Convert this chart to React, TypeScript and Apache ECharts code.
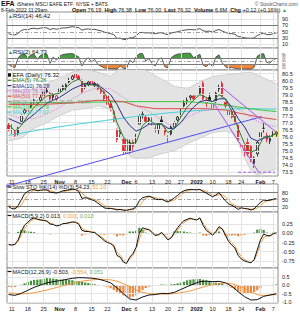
import React, { useEffect, useRef } from 'react';
import * as echarts from 'echarts';

const dates = ['10/8','10/11','10/12','10/13','10/14','10/15','10/18','10/19','10/20','10/21','10/22','10/25','10/26','10/27','10/28','10/29',
'11/1','11/2','11/3','11/4','11/5','11/8','11/9','11/10','11/11','11/12','11/15','11/16','11/17','11/18','11/19','11/22','11/23','11/24','11/26','11/29','11/30',
'12/1','12/2','12/3','12/6','12/7','12/8','12/9','12/10','12/13','12/14','12/15','12/16','12/17','12/20','12/21','12/22','12/23','12/27','12/28','12/29','12/30','12/31',
'1/3','1/4','1/5','1/6','1/7','1/10','1/11','1/12','1/13','1/14','1/18','1/19','1/20','1/21','1/24','1/25','1/26','1/27','1/28','1/31',
'2/1','2/2','2/3','2/4','2/7','2/8'];

const opens = [76.8,76.6,76.3,76.2,77.1,77.7,77.9,78.1,78.5,78.5,78.6,78.9,79.3,79.1,78.8,78.7,79.2,79.4,79.5,80.0,80.1,80.5,80.3,80.0,79.5,79.7,80.0,79.7,79.7,79.4,79.2,78.9,78.3,77.1,76.5,76.3,75.8,75.8,74.9,75.6,75.6,76.9,77.5,77.4,77.2,77.3,76.6,76.5,77.2,76.6,76.0,76.2,76.7,77.2,77.5,78.2,78.5,78.8,78.9,78.9,79.1,79.8,78.4,78.8,78.0,78.5,79.4,79.8,78.5,77.8,77.8,77.6,76.8,75.3,75.0,75.6,75.3,74.1,74.8,75.9,76.6,76.1,75.7,76.2,76.19];
const highs = [77.0,76.9,76.5,76.7,77.6,78.0,78.0,78.5,78.7,78.6,79.0,79.3,79.5,79.2,79.1,79.0,79.5,79.7,79.8,80.2,80.4,80.6,80.4,80.1,79.8,80.0,80.1,79.9,79.8,79.5,79.3,79.0,78.4,77.9,76.6,76.6,76.0,76.1,75.8,75.8,76.2,77.6,77.8,77.5,77.4,77.4,76.8,77.0,77.5,76.7,76.1,76.8,77.1,77.5,78.0,78.6,78.8,79.0,79.0,79.0,79.6,80.0,78.8,79.1,78.4,79.2,79.7,80.0,78.7,77.9,78.0,77.8,76.9,75.6,75.4,75.9,75.4,74.6,75.7,76.4,77.0,76.3,76.1,76.4,76.38];
const lows = [76.4,76.2,75.9,76.1,77.0,77.6,77.5,78.0,78.3,78.2,78.5,78.8,79.1,78.6,78.6,78.5,79.0,79.3,79.3,79.8,80.0,80.1,80.0,79.1,79.4,79.6,79.6,79.5,79.3,79.0,78.6,78.2,77.8,77.0,75.6,75.9,74.7,74.6,74.8,75.0,75.5,76.9,77.3,77.0,76.9,76.8,76.3,76.2,76.9,76.1,75.6,76.1,76.6,77.1,77.4,78.1,78.3,78.6,78.6,78.5,79.0,78.6,78.1,78.5,77.7,78.4,79.2,78.8,78.0,77.3,77.3,76.9,75.7,73.5,74.6,74.6,74.2,73.8,74.6,75.7,76.3,75.6,75.4,76.0,76.00];
const closes = [76.5,76.3,76.1,76.6,77.5,77.9,77.8,78.4,78.6,78.4,78.8,79.2,79.2,78.7,79.0,78.9,79.4,79.6,79.7,79.9,80.3,80.2,80.1,79.2,79.7,79.9,79.7,79.8,79.4,79.2,78.7,78.3,78.0,77.8,75.8,76.2,75.0,74.8,75.6,75.3,76.0,77.5,77.6,77.1,77.3,76.9,76.6,76.9,77.0,76.3,75.8,76.7,77.0,77.4,77.9,78.4,78.6,78.9,78.7,78.9,79.5,78.7,78.6,78.6,78.3,79.1,79.5,78.9,78.2,77.5,77.4,77.0,75.8,75.4,75.1,74.8,74.4,74.5,75.6,76.3,76.6,75.8,75.9,76.2,76.32];

const tickDates = ['10/11','10/18','10/25','11/1','11/8','11/15','11/22','12/1','12/6','12/13','12/20','12/27','1/3','1/10','1/18','1/24','2/1','2/7'];
const tickNames = ['11','18','25','Nov','8','15','22','Dec','6','13','20','27','2022','10','18','24','Feb','7'];
const boldTicks = ['Nov','Dec','2022','Feb'];

const ema5 = [[0,76.9],[2,76.4],[4,76.8],[6,77.5],[8,78.1],[10,78.5],[12,78.9],[14,79.0],[16,79.1],[18,79.5],[20,79.9],[22,80.1],[24,79.7],[26,79.7],[28,79.6],[30,79.1],[32,78.5],[34,77.0],[36,76.0],[38,75.5],[40,75.6],[42,76.8],[44,77.2],[46,76.9],[48,76.9],[50,76.3],[52,76.6],[54,77.4],[56,78.1],[58,78.6],[60,79.0],[62,78.8],[64,78.5],[66,79.0],[68,78.7],[70,77.8],[72,76.6],[74,75.5],[76,74.9],[78,75.1],[80,76.0],[82,76.0],[84,76.26]];
const ema10 = [[0,77.3],[4,76.9],[8,77.6],[12,78.4],[16,78.8],[20,79.4],[24,79.8],[28,79.7],[32,79.0],[34,78.3],[36,77.4],[38,76.8],[40,76.4],[42,76.6],[44,76.9],[46,76.9],[48,76.9],[50,76.6],[52,76.6],[54,77.0],[56,77.6],[58,78.1],[60,78.5],[62,78.6],[64,78.5],[66,78.7],[68,78.7],[70,78.1],[72,77.3],[74,76.7],[76,75.9],[78,75.7],[80,75.9],[82,76.0],[84,76.28]];
const ma20 = [[0,77.6],[4,77.3],[8,77.3],[12,77.6],[16,78.1],[20,78.7],[24,79.2],[28,79.5],[32,79.4],[34,79.1],[36,78.8],[38,78.5],[40,78.2],[42,78.0],[44,77.8],[46,77.5],[48,77.2],[50,76.9],[52,76.8],[54,77.0],[56,77.4],[58,77.6],[60,77.8],[62,77.9],[64,78.0],[66,78.2],[68,78.3],[70,78.2],[72,78.0],[74,77.7],[76,77.4],[78,77.1],[80,76.9],[82,76.8],[84,76.73]];
const ma50 = [[0,78.3],[10,78.3],[20,78.4],[28,78.6],[36,78.5],[40,78.2],[46,78.0],[56,78.0],[62,78.0],[68,77.9],[74,77.6],[80,77.35],[84,77.23]];
const ma100 = [[0,78.4],[20,78.45],[40,78.5],[56,78.5],[62,78.4],[68,78.25],[74,78.05],[80,77.88],[84,77.79]];
const ma200 = [[0,76.1],[10,76.5],[20,76.85],[30,77.15],[40,77.45],[50,77.7],[58,77.85],[66,77.95],[74,78.0],[84,77.97]];
const bbUpper = [[0,79.4],[4,79.3],[8,79.4],[12,79.8],[16,80.2],[20,80.6],[24,80.8],[28,80.6],[32,80.3],[34,80.7],[36,81.2],[38,81.3],[40,81.1],[44,80.6],[48,80.1],[52,79.6],[56,79.4],[60,79.9],[64,80.3],[68,80.4],[72,80.5],[76,80.6],[80,80.2],[84,79.77]];
const bbLower = [[0,75.7],[4,75.9],[8,76.6],[12,77.0],[16,77.5],[20,77.9],[24,78.0],[28,78.2],[32,78.0],[34,76.8],[36,75.4],[38,74.6],[40,74.5],[44,74.5],[48,74.8],[52,75.0],[56,75.5],[60,75.9],[64,76.3],[68,76.4],[70,76.3],[72,75.6],[74,74.5],[76,73.6],[78,73.3],[80,73.4],[84,73.70]];

const blueTrend = [[-2.7,72.36],[79.4,77.43]];
const purpleUpper = [[67,79.5],[84.3,76.25]];
const purpleLower = [[64.3,78.4],[78.4,73.5]];
const purpleFloor = [[72,73.48],[83.6,73.48]];

const rsi14 = [44,41,40,45,54,57,56,60,61,59,61,63,62,57,60,58,60,62,62,64,66,64,63,55,58,59,57,58,55,53,49,46,44,41,29,30,26,26,31,31,37,47,48,46,47,45,44,46,47,43,41,46,48,50,53,55,56,57,56,57,60,53,51,52,49,54,57,52,48,44,44,42,35,34,31,30,29.5,30.5,38,43,45,41,41,44,46.42];
const rsi2 = [30,15,10,70,92,95,70,88,92,60,85,92,93,35,75,55,80,90,93,95,97,85,75,20,55,70,45,60,30,18,8,5,4,3,1,20,5,3,55,40,75,95,96,50,65,35,20,60,70,15,8,70,85,92,95,97,98,98,70,80,92,25,15,35,15,75,88,40,15,6,10,5,2,2,2,1,1,10,80,92,95,40,38,60,64.73];
const stoK = [20,12,10,25,50,75,85,92,93,88,90,92,92,82,80,78,82,88,90,92,95,93,85,55,58,56,50,45,35,25,15,12,12,10,6,8,5,4,8,10,20,45,58,62,65,60,52,50,52,45,40,48,58,68,80,88,92,94,93,92,94,85,78,70,62,70,80,62,45,32,26,18,8,15,12,10,6,10,25,38,48,46,48,52,54.23];
const stoD = [28,20,14,16,28,50,70,84,90,91,90,90,91,89,85,80,80,83,87,90,92,93,91,78,66,56,55,50,45,35,25,17,13,11,9,8,6,6,6,7,13,25,41,55,62,62,59,54,51,49,46,44,49,58,69,79,87,91,93,93,93,90,86,78,70,67,71,71,62,46,34,25,17,14,12,12,9,9,14,24,37,44,47,49,51.10];
const macdFast = [-0.30,-0.32,-0.30,-0.18,0.05,0.22,0.30,0.38,0.42,0.38,0.36,0.35,0.33,0.25,0.24,0.20,0.22,0.26,0.27,0.29,0.31,0.30,0.25,0.08,0.05,0.05,0.03,0.02,-0.05,-0.12,-0.20,-0.25,-0.28,-0.35,-0.60,-0.65,-0.78,-0.82,-0.65,-0.55,-0.38,0.00,0.15,0.12,0.10,0.02,-0.06,-0.04,0.02,-0.08,-0.18,-0.12,0.02,0.15,0.26,0.34,0.38,0.41,0.38,0.36,0.42,0.22,0.08,0.02,-0.05,0.05,0.18,0.12,-0.05,-0.22,-0.32,-0.40,-0.60,-0.70,-0.75,-0.78,-0.80,-0.72,-0.45,-0.18,-0.02,-0.06,-0.07,-0.01,0.013];
const macdFastSig = [-0.32,-0.32,-0.31,-0.22,-0.04,0.14,0.25,0.34,0.39,0.39,0.37,0.36,0.34,0.28,0.25,0.22,0.22,0.25,0.26,0.28,0.30,0.30,0.27,0.14,0.08,0.06,0.04,0.03,-0.03,-0.09,-0.16,-0.22,-0.26,-0.32,-0.51,-0.60,-0.72,-0.79,-0.70,-0.60,-0.45,-0.15,0.05,0.10,0.10,0.05,-0.03,-0.04,0.00,-0.05,-0.14,-0.13,-0.03,0.09,0.20,0.29,0.35,0.39,0.38,0.37,0.40,0.28,0.15,0.06,-0.01,0.03,0.13,0.12,0.01,-0.15,-0.26,-0.35,-0.52,-0.64,-0.71,-0.76,-0.79,-0.74,-0.55,-0.30,-0.11,-0.08,-0.07,-0.03,0.000];
const macdFastHist = [0.02,0.00,0.01,0.04,0.09,0.08,0.05,0.04,0.03,-0.01,-0.01,-0.01,-0.01,-0.03,-0.01,-0.02,0.00,0.01,0.01,0.01,0.01,0.00,-0.02,-0.06,-0.03,-0.01,-0.01,-0.01,-0.02,-0.03,-0.04,-0.03,-0.02,-0.03,-0.09,-0.05,-0.06,-0.03,0.05,0.05,0.07,0.15,0.10,0.02,0.00,-0.03,-0.03,0.00,0.02,-0.03,-0.04,0.01,0.05,0.06,0.06,0.05,0.03,0.02,0.00,-0.01,0.02,-0.06,-0.07,-0.04,-0.04,0.02,0.05,0.00,-0.06,-0.07,-0.06,-0.05,-0.08,-0.06,-0.04,-0.02,-0.01,0.02,0.10,0.12,0.09,0.02,0.00,0.02,0.013];
const macdSlow = [[0,-0.55],[2,-0.60],[4,-0.48],[6,-0.30],[8,-0.12],[10,0.02],[12,0.15],[14,0.22],[16,0.28],[18,0.35],[20,0.42],[22,0.46],[24,0.45],[26,0.43],[28,0.38],[30,0.28],[32,0.15],[34,-0.15],[36,-0.50],[38,-0.82],[40,-0.88],[42,-0.70],[44,-0.58],[46,-0.55],[48,-0.48],[50,-0.50],[52,-0.42],[54,-0.25],[56,-0.08],[58,0.08],[60,0.22],[62,0.25],[64,0.22],[66,0.24],[68,0.15],[70,-0.05],[72,-0.38],[74,-0.68],[76,-0.88],[78,-0.86],[80,-0.66],[82,-0.58],[84,-0.503]];
const macdSlowSig = [[0,-0.45],[4,-0.52],[8,-0.45],[12,-0.28],[16,-0.08],[20,0.12],[24,0.28],[28,0.36],[32,0.33],[34,0.25],[36,0.10],[38,-0.08],[40,-0.28],[42,-0.42],[44,-0.50],[48,-0.53],[52,-0.50],[56,-0.38],[58,-0.28],[60,-0.16],[62,-0.05],[64,0.04],[66,0.10],[68,0.14],[70,0.10],[72,-0.02],[74,-0.20],[76,-0.40],[78,-0.56],[80,-0.62],[82,-0.58],[84,-0.554]];
const macdSlowHist = [-0.10,-0.12,-0.10,-0.03,0.04,0.12,0.20,0.27,0.33,0.34,0.36,0.38,0.43,0.42,0.40,0.38,0.36,0.34,0.33,0.32,0.30,0.27,0.26,0.22,0.17,0.14,0.11,0.07,0.02,-0.02,-0.06,-0.12,-0.18,-0.28,-0.40,-0.50,-0.60,-0.68,-0.74,-0.68,-0.60,-0.44,-0.28,-0.16,-0.08,-0.05,-0.02,0.02,0.05,0.04,0.03,0.06,0.08,0.12,0.16,0.22,0.30,0.34,0.36,0.37,0.38,0.34,0.30,0.24,0.18,0.16,0.14,0.08,0.01,-0.08,-0.15,-0.25,-0.36,-0.44,-0.48,-0.50,-0.48,-0.40,-0.30,-0.18,-0.04,0.00,0.00,0.03,0.051];

const rsiTicks = [10, 30, 50, 70, 90];
const priceTicks = [73.5, 74, 74.5, 75, 75.5, 76, 76.5, 77, 77.5, 78, 78.5, 79, 79.5, 80, 80.5];
const stoTicks = [20, 50, 80];
const macdFastTicks = [-0.75, -0.5, -0.25, 0, 0.25];
const macdSlowTicks = [-1, -0.5, 0, 0.5];

const FONT = 'Liberation Sans, Arial, sans-serif';
const RED = '#e8202a';
const GREEN_F = '#4a8f3f';
const ORANGE_F = '#f0863a';

function buildOption() {
  const G = [
    { top: 12, height: 36 }, { top: 48, height: 22 }, { top: 70, height: 106 },
    { top: 184, height: 28 }, { top: 212, height: 56 }, { top: 268, height: 35 },
  ];
  const yRange = [[-1, 112], [-5, 130], [73.21, 80.75], [-3, 117], [-0.943, 0.579], [-1.06, 1.04]];
  const yLabels = [rsiTicks, rsiTicks, priceTicks, stoTicks, macdFastTicks, macdSlowTicks];
  const yFont = [5.5, 3, 5.5, 5.5, 5.5, 5.5];
  const yFmt = [
    (v: number) => String(v), (v: number) => String(v), (v: number) => v.toFixed(1),
    (v: number) => String(v), (v: number) => v.toFixed(2), (v: number) => v.toFixed(1),
  ];
  const grid = G.map(g => ({ left: 7, right: 22, top: g.top, height: g.height, show: true, backgroundColor: '#ffffff', borderColor: '#8c8c8c', borderWidth: 1 }));
  const xLabel = {
    show: true, fontSize: 5.5, color: '#222', margin: 3, fontFamily: FONT,
    interval: (idx: number) => tickDates.indexOf(dates[idx]) >= 0,
    formatter: (v: string) => { const n = tickNames[tickDates.indexOf(v)]; return boldTicks.indexOf(n) >= 0 ? '{b|' + n + '}' : n; },
    rich: { b: { fontWeight: 'bold', fontSize: 5.5, fontFamily: FONT, color: '#111' } },
  };
  const xCat = G.map((_, i) => ({
    type: 'category', gridIndex: i, data: dates, boundaryGap: true,
    axisLine: { show: false }, axisTick: { show: false }, splitLine: { show: false },
    axisLabel: (i === 2 || i === 5) ? xLabel : { show: false },
  }));
  const xVal = G.map((_, i) => ({ type: 'value', gridIndex: i, min: -0.5, max: 84.5, show: false, splitLine: { show: false } }));
  const yAxis = G.map((_, i) => ({
    type: 'value', gridIndex: i, position: 'right', min: yRange[i][0], max: yRange[i][1],
    axisLine: { show: false }, axisTick: { show: false }, splitLine: { show: false },
    axisLabel: { customValues: yLabels[i], formatter: yFmt[i], fontSize: yFont[i], lineHeight: yFont[i], color: '#222', margin: 4, fontFamily: FONT },
  }));

  const light = { color: '#e4e4e4', width: 1, type: 'solid' };
  const dark = { color: '#7a7a7a', width: 1, type: 'solid' };
  const dash = { color: '#8a8a8a', width: 0.8, type: [4, 2, 1, 2] };

  const helper = (g: number, data: any[], levels: any[]) => ({
    type: 'line', xAxisIndex: g, yAxisIndex: g, data, z: 1, silent: true, showSymbol: false,
    lineStyle: { opacity: 0 },
    markLine: {
      silent: true, symbol: ['none', 'none'], label: { show: false }, animation: false,
      data: [
        ...tickDates.map(d => ({ xAxis: d, lineStyle: light })),
        ...levels.map(([v, s]) => ({ yAxis: v, lineStyle: s })),
      ],
    },
  });

  const vline = (g: number, data: any, color: string, width = 0.9, extra: any = {}) => ({
    type: 'line', xAxisIndex: 6 + g, yAxisIndex: g, data, showSymbol: false, silent: true, z: 5,
    lineStyle: { color, width, ...(extra.lineStyle || {}) }, ...(extra.opts || {}),
  });

  const candleData = closes.map((c, i) => {
    const prev = i > 0 ? closes[i - 1] : opens[i];
    const col = c < prev ? RED : '#111';
    const hollow = c > opens[i];
    return { value: [opens[i], c, lows[i], highs[i]], itemStyle: { color: hollow ? '#ffffff' : col, color0: col, borderColor: col, borderColor0: col, borderWidth: 0.8 } };
  });

  const series: any[] = [];
  series.push(helper(0, rsi14, [[10, light], [90, light], [70, dark], [30, dark], [50, dash]]));
  const rsi14Fill = series.length;
  series.push({ type: 'line', xAxisIndex: 0, yAxisIndex: 0, data: rsi14, showSymbol: false, silent: true, z: 2, lineStyle: { width: 0 }, areaStyle: { origin: 50, opacity: 1 } });
  series.push({ type: 'line', xAxisIndex: 0, yAxisIndex: 0, data: rsi14, showSymbol: false, silent: true, z: 4, lineStyle: { color: '#3c3c3c', width: 0.9 } });
  series.push(helper(1, rsi2, [[70, dark], [30, dark], [50, dash]]));
  const rsi2Fill = series.length;
  series.push({ type: 'line', xAxisIndex: 1, yAxisIndex: 1, data: rsi2, showSymbol: false, silent: true, z: 2, lineStyle: { width: 0 }, areaStyle: { origin: 50, opacity: 1 } });
  series.push({ type: 'line', xAxisIndex: 1, yAxisIndex: 1, data: rsi2, showSymbol: false, silent: true, z: 4, lineStyle: { color: '#3c3c3c', width: 0.8 } });
  series.push({
    type: 'custom', xAxisIndex: 8, yAxisIndex: 2, z: 1, silent: true, clip: true,
    data: [[0, 76]],
    renderItem: (_p: any, api: any) => {
      const up = bbUpper.map(p => api.coord(p));
      const lo = bbLower.slice().reverse().map(p => api.coord(p));
      return { type: 'polygon', shape: { points: up.concat(lo) }, style: { fill: '#e3e3e3', stroke: 'none' } };
    },
  });
  series.push(helper(2, closes, priceTicks.map(v => [v, light])));
  series.push(vline(2, bbUpper, '#c4c4c4', 0.7));
  series.push(vline(2, bbLower, '#c4c4c4', 0.7));
  series.push({ type: 'scatter', xAxisIndex: 2, yAxisIndex: 2, data: [[84, 76.2]], symbol: 'rect', symbolSize: [5, 7], itemStyle: { color: '#f3ef4a' }, z: 3, silent: true });
  series.push({ type: 'candlestick', xAxisIndex: 2, yAxisIndex: 2, data: candleData, barWidth: '62%', z: 4, silent: true });
  series.push(vline(2, ma200, '#45d3da', 1));
  series.push(vline(2, ma100, '#38c838', 1));
  series.push(vline(2, ma50, '#e04a4a', 1));
  series.push(vline(2, ma20, '#d060d0', 0.9, { lineStyle: { type: [1, 1.5] } }));
  series.push(vline(2, ema10, '#2d2d90', 1));
  series.push(vline(2, ema5, '#2c7d2c', 1));
  series.push(vline(2, blueTrend, '#5050ee', 1, { opts: { clip: false, z: 6 } }));
  series.push(vline(2, purpleUpper, '#a455ee', 1, { opts: { clip: false, z: 6 } }));
  series.push(vline(2, purpleLower, '#a455ee', 1, { opts: { clip: false, z: 6 } }));
  series.push(vline(2, purpleFloor, '#a455ee', 1, { lineStyle: { type: [3, 2] }, opts: { z: 6 } }));
  series.push(helper(3, stoK, [[80, dark], [20, dark], [50, dash]]));
  series.push({ type: 'line', xAxisIndex: 3, yAxisIndex: 3, data: stoD, showSymbol: false, silent: true, z: 4, lineStyle: { color: '#f29a3e', width: 1 } });
  series.push({ type: 'line', xAxisIndex: 3, yAxisIndex: 3, data: stoK, showSymbol: false, silent: true, z: 5, lineStyle: { color: '#111', width: 1 } });
  series.push(helper(4, macdFast, macdFastTicks.map(v => [v, light])));
  series.push({ type: 'bar', xAxisIndex: 4, yAxisIndex: 4, barWidth: '70%', silent: true, z: 3,
    data: macdFastHist.map(v => ({ value: v, itemStyle: { color: v >= 0 ? GREEN_F : ORANGE_F } })) });
  series.push({ type: 'line', xAxisIndex: 4, yAxisIndex: 4, data: macdFastSig, showSymbol: false, silent: true, z: 4, lineStyle: { color: '#f29a3e', width: 1 } });
  series.push({ type: 'line', xAxisIndex: 4, yAxisIndex: 4, data: macdFast, showSymbol: false, silent: true, z: 5, lineStyle: { color: '#111', width: 1 } });
  series.push(helper(5, macdSlowHist, macdSlowTicks.map(v => [v, light])));
  series.push({ type: 'bar', xAxisIndex: 5, yAxisIndex: 5, barWidth: '70%', silent: true, z: 3,
    data: macdSlowHist.map(v => ({ value: v, itemStyle: { color: v >= 0 ? GREEN_F : ORANGE_F } })) });
  series.push(vline(5, macdSlowSig, '#f29a3e', 1));
  series.push(vline(5, macdSlow, '#111', 1));

  const pieces = [
    { gt: 70, color: '#4a9a45' },
    { gte: 30, lte: 70, color: 'rgba(0,0,0,0)' },
    { lt: 30, color: '#f0863a' },
  ];
  const visualMap = [rsi14Fill, rsi2Fill].map(si => ({ type: 'piecewise', show: false, seriesIndex: si, dimension: 1, pieces }));

  const T = (x: number, y: number, text: string, style: any = {}) => ({
    type: 'text', x, y, z: 100, silent: true,
    style: { text, fontSize: 5.5, fontFamily: FONT, fill: '#111', verticalAlign: 'middle', ...style },
  });
  const legRow = (y: number, color: string, text: string, dotted = false) => ([
    { type: 'line', z: 100, silent: true, shape: { x1: 7.5, y1: y, x2: 11.5, y2: y }, style: { stroke: color, lineWidth: 1.2, lineDash: dotted ? [1, 1] : null } },
    ...(text ? [T(12.5, y, text, { fill: color })] : []),
  ]);

  const graphic: any[] = [
    T(1, 3.8, 'EFA', { fontSize: 7, fontWeight: 'bold' }),
    T(17, 4, 'iShares MSCI EAFE ETF  NYSE + BATS', { fontSize: 5 }),
    T(298, 4, '© StockCharts.com', { fontSize: 5, fill: '#555', align: 'right' }),
    T(1, 10.2, '8-Feb-2022 11:29am', { fontSize: 5 }),
    T(72, 10.2, '{b|Open} 76.19  {b|High} 76.38  {b|Low} 76.00  {b|Last} 76.32  {b|Volume} 6.6M  {b|Chg} +0.12 (+0.16%) {g|▲}', {
      fontSize: 5.5, rich: { b: { fontWeight: 'bold', fontSize: 5.5, fontFamily: FONT }, g: { fill: '#3a9a3a', fontSize: 5 } },
    }),
    T(8, 15.5, '{g|▲}RSI(14) 46.42', { fontSize: 6, rich: { g: { fill: '#3a8a3a', fontSize: 5 } } }),
    T(8, 52, '{g|▲}RSI(2) 64.73', { fontSize: 6, rich: { g: { fill: '#3a8a3a', fontSize: 5 } } }),
    { type: 'rect', z: 100, silent: true, shape: { x: 8, y: 73.2, width: 3, height: 3.5 }, style: { fill: '#111' } },
    T(12.5, 75, 'EFA (Daily) 76.32', { fontSize: 6 }),
    ...legRow(80.3, '#2c7d2c', 'EMA(5) 76.26'),
    ...legRow(85.6, '#2d2d90', 'EMA(10) 76.28'),
    ...legRow(90.9, '#d060d0', 'MA(20) 76.73', true),
    ...legRow(96.2, '#e04a4a', 'MA(50) 77.23'),
    ...legRow(101.5, '#9a9a9a', 'BB(20,2.0) 73.70 - 76.73 - 79.77'),
    ...legRow(106.8, '#38c838', 'MA(100) 77.79'),
    ...legRow(112.1, '#45d3da', 'MA(200) 77.97'),
    ...legRow(187, '#111', ''),
    T(12.5, 187, 'Slow STO %K(14) %D(3) 54.23, {o|51.10}', { fontSize: 5.5, rich: { o: { fill: '#f29a3e', fontSize: 5.5, fontFamily: FONT } } }),
    ...legRow(215.5, '#111', ''),
    T(12.5, 215.5, 'MACD(5,9,2) 0.013, {o|0.000}, {g|0.013}', { fontSize: 5.5, rich: { o: { fill: '#f29a3e', fontSize: 5.5, fontFamily: FONT }, g: { fill: '#6aa86a', fontSize: 5.5, fontFamily: FONT } } }),
    ...legRow(271.5, '#111', ''),
    T(12.5, 271.5, 'MACD(12,26,9) -0.503, {o|-0.554}, {g|0.051}', { fontSize: 5.5, rich: { o: { fill: '#f29a3e', fontSize: 5.5, fontFamily: FONT }, g: { fill: '#6aa86a', fontSize: 5.5, fontFamily: FONT } } }),
  ];

  return {
    animation: false,
    backgroundColor: '#ffffff',
    textStyle: { fontFamily: FONT },
    grid, xAxis: [...xCat, ...xVal], yAxis, series, visualMap, graphic,
  };
}

export default function App() {
  const ref = useRef<HTMLDivElement>(null);
  useEffect(() => {
    if (!ref.current) return;
    const chart = echarts.init(ref.current, null, { renderer: 'svg' });
    chart.setOption(buildOption() as any);
    return () => chart.dispose();
  }, []);
  return <div ref={ref} style={{ position: 'absolute', left: 0, top: 0, width: 300, height: 312 }} />;
}
